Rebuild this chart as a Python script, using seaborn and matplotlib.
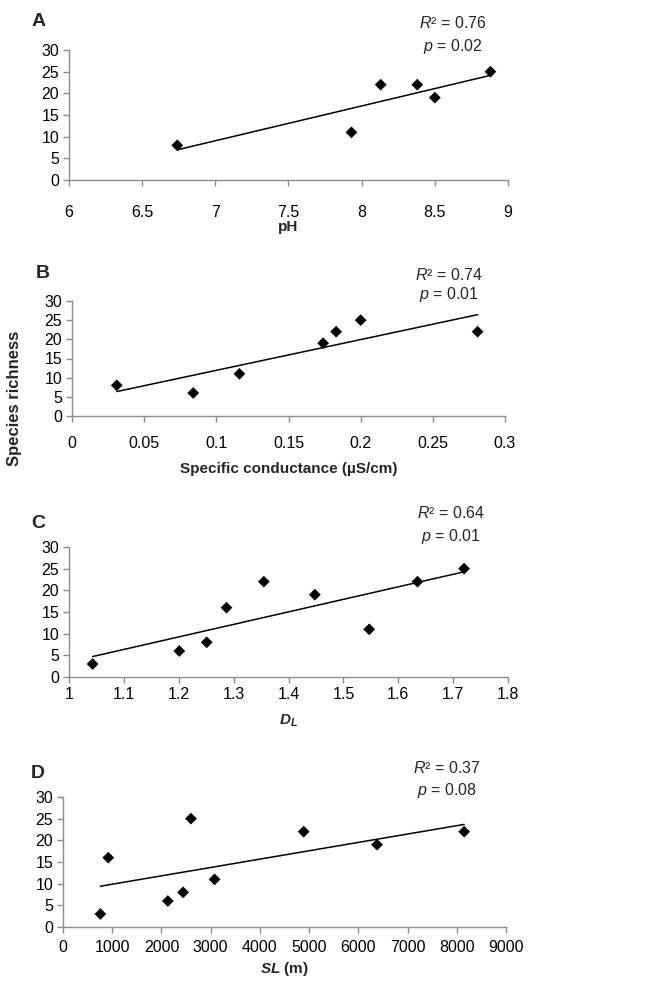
import matplotlib
matplotlib.use("Agg")
import matplotlib.pyplot as plt
import numpy as np
import seaborn as sns
from matplotlib.ticker import FuncFormatter

# data
ph = [6.74, 7.93, 8.13, 8.38, 8.50, 8.88]
ph_rich = [8, 11, 22, 22, 19, 25]

cond = [0.031, 0.084, 0.116, 0.174, 0.183, 0.200, 0.281]
cond_rich = [8, 6, 11, 19, 22, 25, 22]

dl = [1.043, 1.201, 1.251, 1.287, 1.355, 1.448, 1.547, 1.635, 1.720]
dl_rich = [3, 6, 8, 16, 22, 19, 11, 22, 25]

sl = [760, 920, 2130, 2440, 2600, 3080, 4890, 6380, 8150]
sl_rich = [3, 16, 6, 8, 25, 11, 22, 19, 22]

panel_letters = ["A", "B", "C", "D"]
r2_labels = ["0.76", "0.74", "0.64", "0.37"]
p_labels = ["0.02", "0.01", "0.01", "0.08"]
x_labels = ["pH", "Specific conductance (µS/cm)",
            r"$\mathbfit{D}_{\mathbfit{L}}$", r"$\mathbfit{SL}$ (m)"]
x_ranges = [(6, 9, 0.5), (0, 0.3, 0.05), (1, 1.8, 0.1), (0, 9000, 1000)]

sns.set_theme(style="ticks")
plt.rcParams["font.family"] = ["Liberation Sans", "DejaVu Sans"]
plt.rcParams["mathtext.fontset"] = "custom"
plt.rcParams["mathtext.rm"] = "Liberation Sans"
plt.rcParams["mathtext.it"] = "Liberation Sans:italic"
plt.rcParams["mathtext.bf"] = "Liberation Sans:bold"
plt.rcParams["mathtext.bfit"] = "Liberation Sans:bold:italic"

W, H = 646, 981
fig = plt.figure(figsize=(W / 100, H / 100), dpi=100)

# pixel boxes (left, right, top, bottom) of each panel's plotting area
boxes = [(69, 508, 50, 180), (72, 505, 301, 416), (69, 508, 547, 677), (63, 506, 797, 927)]
tick_pads = [14, 10.5, 3.5, 5.5]
label_y = [-0.31, -0.40, -0.277, -0.254]
letter_pos = [(39, 21), (43, 273), (38, 523), (38, 773)]
annot_pos = [(453, 23, 47), (449, 275, 295), (451, 513, 537), (447, 768, 790)]

datasets = [(ph, ph_rich), (cond, cond_rich), (dl, dl_rich), (sl, sl_rich)]

for i, (xs, ys) in enumerate(datasets):
    l, r, t, b = boxes[i]
    ax = fig.add_axes([l / W, 1 - b / H, (r - l) / W, (b - t) / H])
    sns.regplot(x=np.array(xs), y=np.array(ys), ax=ax, ci=None, marker="D",
                scatter_kws={"s": 36, "color": "black", "alpha": 1,
                             "edgecolors": "none", "zorder": 3},
                line_kws={"color": "black", "linewidth": 1.1})
    lo, hi, step = x_ranges[i]
    ax.set_xlim(lo, hi)
    ax.set_xticks(np.arange(lo, hi + step / 2, step))
    ax.xaxis.set_major_formatter(FuncFormatter(lambda v, pos: f"{v:g}"))
    ax.set_ylim(0, 30)
    ax.set_yticks(range(0, 31, 5))
    sns.despine(ax=ax)
    for s in ["left", "bottom"]:
        ax.spines[s].set_color("#8c8c8c")
        ax.spines[s].set_linewidth(1.0)
    ax.tick_params(axis="both", colors="#8c8c8c", labelcolor="black",
                   labelsize=11.5, length=4, width=1.0)
    ax.tick_params(axis="x", pad=tick_pads[i])
    ax.tick_params(axis="y", pad=3)
    ax.set_xlabel(x_labels[i], fontsize=11, fontweight="bold")
    ax.xaxis.set_label_coords(0.5, label_y[i])
    ax.set_ylabel("")

    lx, ly = letter_pos[i]
    fig.text(lx / W, 1 - ly / H, panel_letters[i], fontsize=14,
             fontweight="bold", ha="center", va="center")
    ax_, ry, py = annot_pos[i]
    fig.text(ax_ / W, 1 - ry / H, r"$\mathit{R}$² = " + r2_labels[i],
             fontsize=11.5, ha="center", va="center")
    fig.text(ax_ / W, 1 - py / H, r"$\mathit{p}$ = " + p_labels[i],
             fontsize=11.5, ha="center", va="center")

fig.text(15 / W, 1 - 398 / H, "Species richness", rotation=90,
         fontsize=12, fontweight="bold", ha="center", va="center")

fig.savefig("out.png", dpi=100)
